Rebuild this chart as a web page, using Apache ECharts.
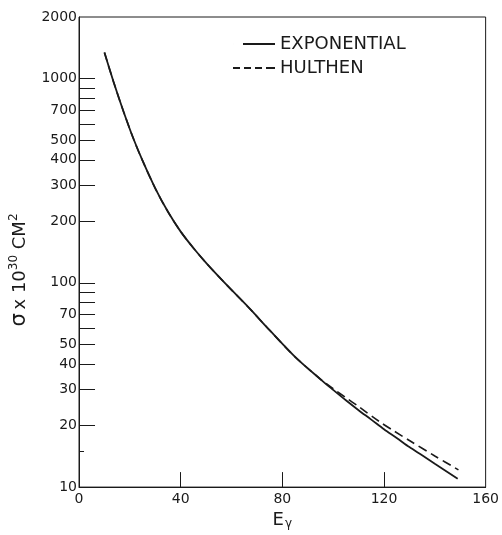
<!DOCTYPE html>
<html><head><meta charset="utf-8">
<script src="https://cdn.jsdelivr.net/npm/echarts@6/dist/echarts.min.js"></script>
<style>html,body{margin:0;padding:0;background:#fff}#c{width:502px;height:535px}</style>
</head><body><div id="c"></div>
<script>
// Photon energy (x) and cross-section sigma x 10^30 cm^2 (y)
const energyExp = [10, 13.6, 17.5, 21.5, 25, 30, 35, 40, 45, 50, 55, 60, 67, 75, 85, 95, 100, 105, 110, 115, 120, 125, 130, 135, 140, 149];
const sigmaExp  = [1340, 962, 690, 504, 396, 290, 222.6, 178, 148, 125.2, 107.2, 92.3, 75.1, 58.6, 43.4, 33.7, 29.9, 26.6, 23.8, 21.4, 19.2, 17.4, 15.7, 14.3, 13.0, 11.0];
const energyHul = [10, 13.6, 17.5, 21.5, 25, 30, 35, 40, 45, 50, 55, 60, 67, 75, 85, 95, 100, 105, 110, 118, 124, 130, 140, 149.3];
const sigmaHul  = [1340, 962, 690, 504, 396, 290, 222.6, 178, 148, 125.2, 107.2, 92.3, 75.1, 58.6, 43.4, 33.8, 30.3, 27.4, 24.8, 21.0, 18.8, 16.9, 14.2, 12.15];
const yTickValues  = [20, 30, 40, 50, 60, 70, 80, 90, 100, 200, 300, 400, 500, 600, 700, 800, 900, 1000];
const yMinorTicks  = [15];
const yLabelValues = [10, 20, 30, 40, 50, 70, 100, 200, 300, 400, 500, 700, 1000, 2000];
const xTickValues  = [40, 80, 120];
const seriesNames  = ['EXPONENTIAL', 'HULTHEN'];

const ink = '#1a1a1a';
const font = 'DejaVu Sans';
const pairs = (xs, ys) => xs.map((x, i) => [x, ys[i]]);
// legend icons: a solid bar (with a near-invisible speck at the left to reserve space) and four dashes
const solidIcon  = 'path://M0,0h0.01v2h-0.01z M10,0h32v2h-32z';
const dashedIcon = 'path://M0,0h7v2h-7z M11,0h7v2h-7z M22,0h7v2h-7z M33,0h9v2h-9z';

const chart = echarts.init(document.getElementById('c'), null, {renderer: 'canvas'});
chart.setOption({
  animation: false,
  backgroundColor: '#fff',
  textStyle: {fontFamily: font, color: ink},
  grid: {left: 78, right: 14, top: 17, bottom: 40, show: true, borderColor: ink, borderWidth: 1, backgroundColor: 'transparent'},
  legend: {
    orient: 'vertical', left: 233, top: 35, padding: 0, itemGap: 6,
    itemWidth: 42, itemHeight: 2, selectedMode: false,
    textStyle: {fontFamily: font, fontSize: 18, color: ink},
    data: [
      {name: seriesNames[0], icon: solidIcon, itemStyle: {color: ink}},
      {name: seriesNames[1], icon: dashedIcon, itemStyle: {color: ink}}
    ]
  },
  xAxis: {
    type: 'value', min: 0, max: 160, interval: 40,
    name: '{e|E}{s|γ}', nameLocation: 'middle', nameGap: 21,
    nameTextStyle: {rich: {e: {fontFamily: font, fontSize: 18, color: ink}, s: {fontFamily: font, fontSize: 12, color: ink, verticalAlign: 'bottom', padding: [8, 0, 0, 1]}}},
    axisLine: {show: true, lineStyle: {color: ink, width: 1}},
    axisTick: {show: true, inside: true, length: 15, customValues: xTickValues, lineStyle: {color: ink, width: 1}},
    axisLabel: {fontFamily: font, fontSize: 14, color: ink, margin: 5, showMinLabel: true, showMaxLabel: true},
    splitLine: {show: false}
  },
  yAxis: [
    {
      type: 'log', logBase: 10, min: 10, max: 2000,
      name: '{g|σ} {t|x 10}{p|30}{t| CM}{p|2}', nameLocation: 'middle', nameGap: 34, nameRotate: 90,
      nameTextStyle: {padding: [0, 36, 0, 0], rich: {
        g: {fontFamily: font, fontSize: 21, color: ink, lineHeight: 24},
        t: {fontFamily: font, fontSize: 18, color: ink, lineHeight: 24},
        p: {fontFamily: font, fontSize: 12, color: ink, verticalAlign: 'top', lineHeight: 24}
      }},
      axisLine: {show: true, lineStyle: {color: ink, width: 1}},
      axisTick: {show: true, inside: true, length: 16, customValues: yTickValues, lineStyle: {color: ink, width: 1}},
      axisLabel: {fontFamily: font, fontSize: 14, color: ink, margin: 2, customValues: yLabelValues,
                  formatter: v => String(Math.round(v)), showMinLabel: true, showMaxLabel: true},
      minorTick: {show: false},
      splitLine: {show: false}
    },
    {
      type: 'log', logBase: 10, min: 10, max: 2000, position: 'left',
      axisLine: {show: false},
      axisTick: {show: true, inside: true, length: 5, customValues: yMinorTicks, lineStyle: {color: ink, width: 1}},
      axisLabel: {show: false},
      splitLine: {show: false}
    }
  ],
  series: [
    {name: seriesNames[1], type: 'line', data: pairs(energyHul, sigmaHul), smooth: 0.3,
     symbol: 'none', lineStyle: {color: ink, width: 1.6, type: [9, 5]}, itemStyle: {color: ink}, z: 2},
    {name: seriesNames[0], type: 'line', data: pairs(energyExp, sigmaExp), smooth: 0.3,
     symbol: 'none', lineStyle: {color: ink, width: 1.8}, itemStyle: {color: ink}, z: 3}
  ]
});
</script></body></html>
